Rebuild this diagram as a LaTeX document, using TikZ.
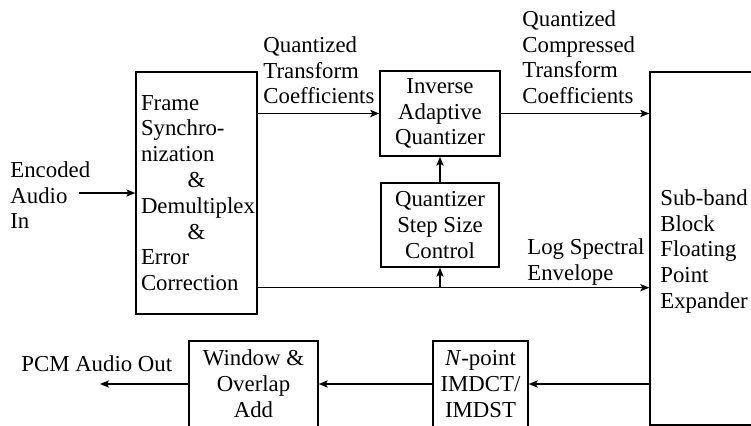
\documentclass[tikz,border=0pt]{standalone}
\usepackage{fontspec}
\setmainfont{Liberation Serif}
\usetikzlibrary{arrows.meta,calc}
\begin{document}
\begin{tikzpicture}[x=0.5pt,y=-0.5pt,
  every node/.style={font=\fontsize{11.4}{12.9}\selectfont},
  blk/.style={draw, line width=0.7pt, align=center, inner sep=0pt},
  lbl/.style={anchor=north west, align=left, inner sep=0pt},
  arr/.style={line width=0.7pt, -{Stealth[length=4.5pt,width=3.6pt,inset=1pt]}},
  ln/.style={line width=0.7pt}]
\useasboundingbox (0,0) rectangle (751,426);
\clip (0,0) rectangle (751,426);
% blocks
\node[draw, line width=0.7pt, text width=55.5pt, inner xsep=2.5pt, inner ysep=0pt,
      minimum height=121pt, align=left] (fr) at (196.5,193)
  {Frame\\Synchro-\\nization\\\makebox[\hsize]{\&}\\Demultiplex\\\makebox[\hsize]{\&}\\Error\\Correction};
\node[blk, minimum width=60pt, minimum height=42.5pt] (inv) at (440,113.5) {Inverse\\Adaptive\\Quantizer};
\node[blk, minimum width=59pt, minimum height=42pt] (stp) at (440,225) {Quantizer\\Step Size\\Control};
\node[blk, minimum width=55pt, minimum height=176.5pt] (big) at (705,248.5) {};
\node[lbl] (bigtxt) at (660,189) {Sub-band\\Block\\Floating\\Point\\Expander};
\node[blk, minimum width=47.5pt, minimum height=43pt] (imd) at (480.5,384) {\textit{N}-point\\IMDCT/\\IMDST};
\node[blk, minimum width=64.5pt, minimum height=43pt] (win) at (253.5,384) {Window \&\\Overlap\\Add};
% labels
\node[lbl] (enctxt) at (10,161) {Encoded\\Audio\\In};
\node[lbl] (qtc) at (263,36) {Quantized\\Transform\\Coefficients};
\node[lbl] (qctc) at (522,10) {Quantized\\Compressed\\Transform\\Coefficients};
\node[lbl] (lse) at (527,238) {Log Spectral\\Envelope};
\node[lbl] (pcmtxt) at (21,355) {PCM Audio Out};
% coordinates
\coordinate (enc) at (79,193);
\coordinate (pcm) at (100,384);
\coordinate (lg) at ($(fr.south east)+(0,-27)$);
% connectors
\draw[arr] (enc) -- (fr.west);
\draw[arr] (inv.west -| fr.east) -- (inv.west);
\draw[arr] (inv.east) -- (inv.east -| big.west);
\draw[arr] (stp.north) -- (inv.south);
\draw[arr] (lg) -- (lg -| big.west);
\draw[arr] (lg -| stp.south) -- (stp.south);
\draw[arr] (imd.east -| big.west) -- (imd.east);
\draw[arr] (imd.west) -- (win.east);
\draw[arr] (win.west) -- (pcm);
\end{tikzpicture}
\end{document}
